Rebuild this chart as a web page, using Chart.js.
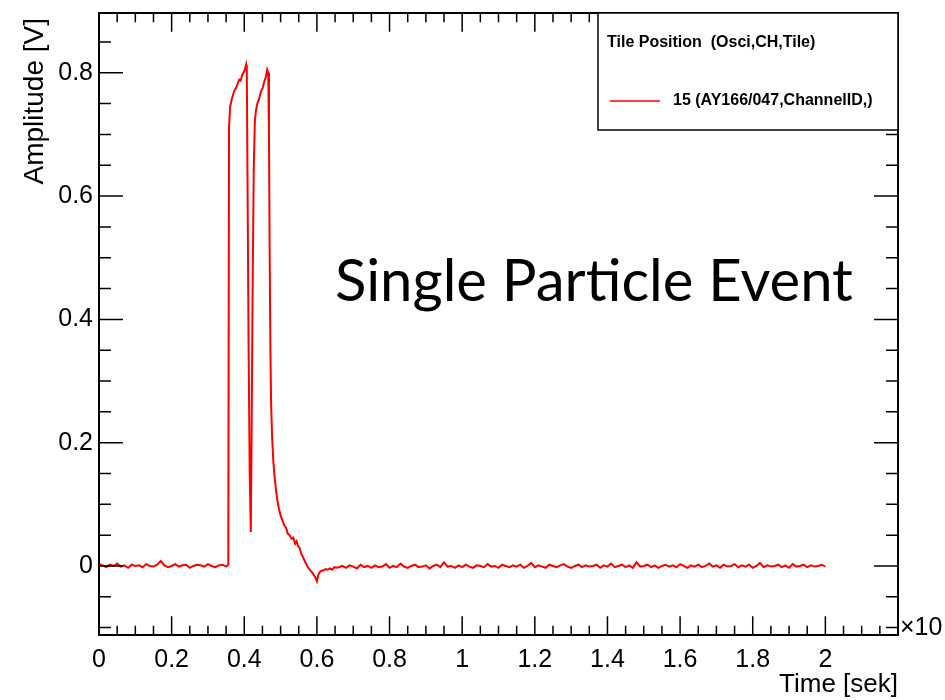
<!DOCTYPE html>
<html>
<head>
<meta charset="utf-8">
<script src="https://cdn.jsdelivr.net/npm/chart.js@4.4.1/dist/chart.umd.min.js"></script>
<style>
html,body{margin:0;padding:0;background:#fff;}
canvas{display:block;}
</style>
</head>
<body>
<canvas id="c" width="945" height="700" style="width:945px;height:700px"></canvas>
<script>
// ---------- DATA ----------
const timeBefore = [0.00,0.01,0.02,0.03,0.04,0.05,0.06,0.07,0.08,0.09,
                    0.10,0.11,0.12,0.13,0.14,0.15,0.16,0.17,0.18,0.19,
                    0.20,0.21,0.22,0.23,0.24,0.25,0.26,0.27,0.28,0.29,
                    0.30,0.31,0.32,0.33,0.34,0.35];
const ampBefore = [0.003,0.001,-0.002,0.002,0.000,0.004,-0.001,0.001,-0.003,0.002,
                   0.000,0.001,-0.002,0.003,0.000,-0.001,0.002,0.008,0.001,-0.002,
                   0.000,0.003,-0.001,0.001,0.002,-0.003,0.000,0.002,0.001,-0.001,
                   0.003,0.000,-0.002,0.001,0.002,-0.001];

const timePulse = [0.356,0.358,0.361,0.366,0.372,0.378,0.386,0.390,0.394,0.398,
                   0.402,0.405,0.407,0.409,0.412,0.415,0.418,0.420,0.423,0.426,
                   0.429,0.432,0.436,0.441,0.446,0.451,0.455,0.459,0.463,0.466,
                   0.468,0.470,0.472,0.474,0.477,0.480,0.483,0.487,0.491,0.495,
                   0.500,0.505,0.510,0.515,0.520,0.525,0.530,0.535,0.540,0.544,
                   0.548,0.552,0.556,0.562,0.568,0.574,0.580,0.586,0.592,0.596,
                   0.600,0.604,0.608,0.612,0.618,0.624,0.630,0.636,0.642,0.648,
                   0.654];
const ampPulse = [0.002,0.710,0.745,0.758,0.770,0.776,0.789,0.787,0.796,0.800,
                  0.806,0.813,0.800,0.620,0.350,0.150,0.055,0.200,0.450,0.640,
                  0.720,0.738,0.750,0.758,0.770,0.776,0.786,0.792,0.805,0.800,
                  0.700,0.500,0.350,0.260,0.205,0.170,0.148,0.125,0.107,0.094,
                  0.082,0.074,0.066,0.062,0.052,0.050,0.044,0.046,0.036,0.040,
                  0.032,0.030,0.021,0.014,0.006,-0.001,-0.006,-0.010,-0.015,-0.019,
                  -0.025,-0.014,-0.010,-0.008,-0.007,-0.005,-0.006,-0.004,-0.006,-0.002,
                  -0.003];

const timeAfter = [0.66,0.67,0.68,0.69,0.70,0.71,0.72,0.73,0.74,0.75,
                   0.76,0.77,0.78,0.79,0.80,0.81,0.82,0.83,0.84,0.85,
                   0.86,0.87,0.88,0.89,0.90,0.91,0.92,0.93,0.94,0.95,
                   0.96,0.97,0.98,0.99,1.00,1.01,1.02,1.03,1.04,1.05,
                   1.06,1.07,1.08,1.09,1.10,1.11,1.12,1.13,1.14,1.15,
                   1.16,1.17,1.18,1.19,1.20,1.21,1.22,1.23,1.24,1.25,
                   1.26,1.27,1.28,1.29,1.30,1.31,1.32,1.33,1.34,1.35,
                   1.36,1.37,1.38,1.39,1.40,1.41,1.42,1.43,1.44,1.45,
                   1.46,1.47,1.48,1.49,1.50,1.51,1.52,1.53,1.54,1.55,
                   1.56,1.57,1.58,1.59,1.60,1.61,1.62,1.63,1.64,1.65,
                   1.66,1.67,1.68,1.69,1.70,1.71,1.72,1.73,1.74,1.75,
                   1.76,1.77,1.78,1.79,1.80,1.81,1.82,1.83,1.84,1.85,
                   1.86,1.87,1.88,1.89,1.90,1.91,1.92,1.93,1.94,1.95,
                   1.96,1.97,1.98,1.99,2.00];
const ampAfter = [-0.002,0.000,-0.003,0.001,-0.001,-0.004,0.002,-0.002,0.000,-0.003,
                  0.001,-0.002,-0.001,0.003,-0.003,0.000,-0.002,0.004,-0.001,-0.003,
                  0.000,0.002,-0.002,-0.001,0.001,-0.004,0.000,0.002,-0.002,0.006,
                  -0.001,0.000,-0.003,0.001,-0.002,0.002,-0.001,-0.003,0.001,0.000,
                  -0.002,0.003,-0.001,0.000,-0.003,0.002,0.000,-0.002,0.001,-0.001,
                  0.002,-0.003,0.000,0.005,-0.002,0.001,-0.001,-0.003,0.002,0.000,
                  -0.002,0.001,0.003,-0.001,-0.003,0.000,0.002,-0.002,0.001,-0.001,
                  0.000,0.002,-0.003,0.001,-0.001,0.004,-0.002,0.000,0.002,-0.002,
                  0.001,-0.003,0.006,-0.001,0.000,0.002,-0.002,0.001,-0.003,0.000,
                  0.002,-0.001,0.001,-0.002,0.003,0.000,-0.003,0.001,-0.001,0.002,
                  -0.002,0.000,0.004,-0.001,0.001,-0.003,0.002,-0.001,0.000,0.003,
                  -0.002,0.001,-0.001,0.002,-0.003,0.000,0.005,-0.002,0.001,-0.001,
                  0.000,0.002,-0.002,0.001,-0.003,0.003,-0.001,0.000,0.002,-0.002,
                  0.001,-0.001,0.000,0.002,-0.001];

const xTickValues = [0,0.2,0.4,0.6,0.8,1.0,1.2,1.4,1.6,1.8,2.0];
const xTickLabels = ['0','0.2','0.4','0.6','0.8','1','1.2','1.4','1.6','1.8','2'];
const yTickValues = [0,0.2,0.4,0.6,0.8];
const yTickLabels = ['0','0.2','0.4','0.6','0.8'];

const seriesLabel = '15 (AY166/047,ChannelID,)';
const legendHeader = 'Tile Position  (Osci,CH,Tile)';
const xTitle = 'Time [sek]';
const yTitle = 'Amplitude [V]';
const xExponent = '\u00d710';
const overlayText = 'Single Particle Event';

// ---------- BUILD ----------
const allTime = [...timeBefore, ...timePulse, ...timeAfter];
const allAmp = [...ampBefore, ...ampPulse, ...ampAfter];
const points = allTime.map((t, i) => ({x: t, y: allAmp[i]}));

const AX_FONT = 'Liberation Sans, Arial, sans-serif';

function zeroPad(s) { s.paddingTop = 0; s.paddingBottom = 0; s.paddingLeft = 0; s.paddingRight = 0; }

const decor = {
  id: 'decor',
  afterDraw(chart) {
    const ctx = chart.ctx;
    const a = chart.chartArea;
    const xs = chart.scales.x, ys = chart.scales.y;
    const H = a.bottom - a.top, W = a.right - a.left;
    const xMaj = 0.03 * H, yMaj = 0.03 * W;
    ctx.save();
    ctx.strokeStyle = '#000';
    ctx.lineWidth = 1.5;
    ctx.beginPath();
    const xStep = 0.05;
    for (let k = Math.ceil(xs.min / xStep - 1e-6); k * xStep <= xs.max + 1e-6; k++) {
      const v = k * xStep;
      const isMaj = xTickValues.some(t => Math.abs(t - v) < 1e-6);
      const len = isMaj ? xMaj : xMaj / 2;
      const px = xs.getPixelForValue(v);
      ctx.moveTo(px, a.bottom); ctx.lineTo(px, a.bottom - len);
      ctx.moveTo(px, a.top); ctx.lineTo(px, a.top + len);
    }
    const yStep = 0.05;
    for (let k = Math.ceil(ys.min / yStep - 1e-6); k * yStep <= ys.max + 1e-6; k++) {
      const v = k * yStep;
      const isMaj = yTickValues.some(t => Math.abs(t - v) < 1e-6);
      const len = isMaj ? yMaj : yMaj / 2;
      const py = ys.getPixelForValue(v);
      ctx.moveTo(a.left, py); ctx.lineTo(a.left + len, py);
      ctx.moveTo(a.right, py); ctx.lineTo(a.right - len, py);
    }
    ctx.stroke();
    ctx.lineWidth = 2;
    ctx.strokeRect(a.left, a.top, W, H);

    // legend box
    const lx = 598, ly = a.top, lw = 300, lh = 117;
    ctx.fillStyle = '#fff';
    ctx.fillRect(lx, ly, lw, lh);
    ctx.lineWidth = 1.5;
    ctx.strokeRect(lx, ly, lw, lh);
    ctx.fillStyle = '#000';
    ctx.font = 'bold 16px ' + AX_FONT;
    ctx.textBaseline = 'middle';
    ctx.textAlign = 'left';
    ctx.fillText(legendHeader, 607, 43);
    const ds = chart.data.datasets[0];
    ctx.strokeStyle = ds.borderColor;
    ctx.lineWidth = 1.5;
    ctx.beginPath();
    ctx.moveTo(610, 101); ctx.lineTo(660, 101);
    ctx.stroke();
    ctx.fillText(ds.label, 673, 101);

    // exponent
    ctx.font = '25px ' + AX_FONT;
    ctx.fillText(xExponent, a.right + 2, a.bottom - 7);

    // y-axis title (placed like ROOT: right-aligned to the top)
    ctx.save();
    ctx.translate(35, 18);
    ctx.rotate(-Math.PI / 2);
    ctx.textAlign = 'right';
    ctx.textBaseline = 'middle';
    ctx.font = '28px ' + AX_FONT;
    ctx.fillText(yTitle, 0, 0);
    ctx.restore();

    // overlay text
    ctx.font = '58px Lato, "Open Sans", sans-serif';
    ctx.textBaseline = 'alphabetic';
    ctx.textAlign = 'left';
    ctx.fillText(overlayText, 335, 301, 522);
    ctx.restore();
  }
};

new Chart(document.getElementById('c'), {
  type: 'line',
  data: {
    datasets: [{
      label: seriesLabel,
      data: points,
      borderColor: '#ff0000',
      borderWidth: 2,
      pointRadius: 0,
      tension: 0,
      fill: false
    }]
  },
  options: {
    responsive: false,
    animation: false,
    parsing: false,
    layout: {padding: {left: 0, right: 47, top: 13, bottom: 0}},
    plugins: {legend: {display: false}, tooltip: {enabled: false}},
    scales: {
      x: {
        type: 'linear', min: 0, max: 2.2,
        afterFit: s => { s.height = 65; zeroPad(s); },
        afterBuildTicks: s => { s.ticks = xTickValues.map(v => ({value: v})); },
        grid: {display: false, drawTicks: false},
        border: {display: false},
        ticks: {
          autoSkip: false, maxRotation: 0, padding: 10, color: '#000',
          font: {family: AX_FONT, size: 25},
          callback: (v) => { const i = xTickValues.findIndex(t => Math.abs(t - v) < 1e-6); return i >= 0 ? xTickLabels[i] : ''; }
        },
        title: {display: true, text: xTitle, align: 'end', color: '#000', font: {family: AX_FONT, size: 26}, padding: {top: 0, bottom: 0}}
      },
      y: {
        type: 'linear', min: -0.112, max: 0.897,
        afterFit: s => { s.width = 99; zeroPad(s); },
        afterBuildTicks: s => { s.ticks = yTickValues.map(v => ({value: v})); },
        grid: {display: false, drawTicks: false},
        border: {display: false},
        ticks: {
          autoSkip: false, padding: 6, color: '#000',
          font: {family: AX_FONT, size: 25},
          callback: (v) => { const i = yTickValues.findIndex(t => Math.abs(t - v) < 1e-6); return i >= 0 ? yTickLabels[i] : ''; }
        },
        title: {display: false}
      }
    }
  },
  plugins: [decor]
});
</script>
</body>
</html>
